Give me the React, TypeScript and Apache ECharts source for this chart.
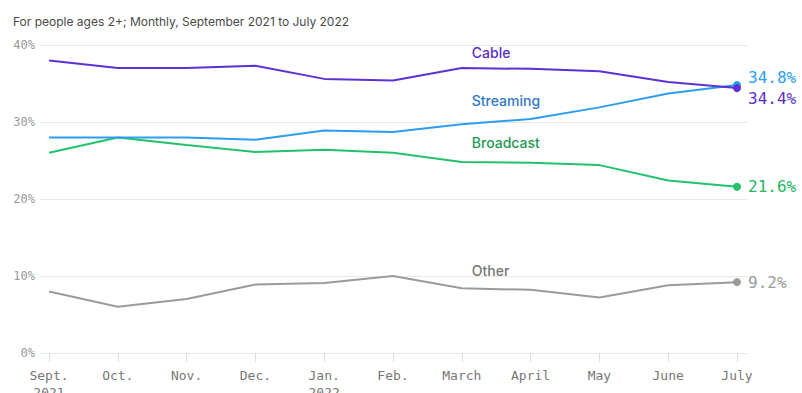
import React, { useEffect, useRef } from 'react';
import * as echarts from 'echarts';

const months = ['Sept.\n2021', 'Oct.', 'Nov.', 'Dec.', 'Jan.\n2022', 'Feb.', 'March', 'April', 'May', 'June', 'July'];
const cable = [38.0, 37.0, 37.0, 37.3, 35.6, 35.4, 37.0, 36.9, 36.6, 35.2, 34.4];
const streaming = [28.0, 28.0, 28.0, 27.7, 28.9, 28.7, 29.7, 30.4, 31.9, 33.7, 34.8];
const broadcast = [26.0, 28.0, 27.0, 26.1, 26.4, 26.0, 24.8, 24.7, 24.4, 22.4, 21.6];
const other = [8.0, 6.0, 7.0, 8.9, 9.1, 10.0, 8.4, 8.2, 7.2, 8.8, 9.2];
const yMin = 0;
const yMax = 40;
const yStep = 10;
const subtitle = 'For people ages 2+; Monthly, September 2021 to July 2022';

const MONO = '"DejaVu Sans Mono", "Liberation Mono", monospace';
const SANS = 'Inter, "Noto Sans", sans-serif';

function makeSeries(
  name: string,
  values: number[],
  lineColor: string,
  nameColor: string,
  nameDy: number,
  endColor: string,
  endDy: number
) {
  const last = values.length - 1;
  const data = values.map((v, i) => {
    const item: any = { value: v };
    if (i === 6) {
      item.label = {
        show: true,
        formatter: name,
        position: 'right',
        distance: 5,
        offset: [5, nameDy],
        color: nameColor,
        fontSize: 14,
        fontFamily: SANS,
        fontWeight: 500,
      };
    }
    if (i === last) {
      item.symbolSize = 8;
      item.label = {
        show: true,
        formatter: v.toFixed(1) + '%',
        position: 'right',
        distance: 5,
        offset: [2, endDy],
        color: endColor,
        fontSize: 16,
        fontFamily: MONO,
      };
    }
    return item;
  });
  return {
    name,
    type: 'line',
    xAxisIndex: 1,
    yAxisIndex: 1,
    data,
    showSymbol: true,
    symbol: 'circle',
    symbolSize: 0,
    clip: false,
    lineStyle: { color: lineColor, width: 2 },
    itemStyle: { color: lineColor },
    emphasis: { disabled: true },
  };
}

export default function App() {
  const ref = useRef<HTMLDivElement>(null);
  useEffect(() => {
    if (!ref.current) return;
    const chart = echarts.init(ref.current, undefined, { renderer: 'svg' });
    chart.setOption({
      animation: false,
      backgroundColor: '#ffffff',
      title: {
        text: subtitle,
        left: 8,
        top: 10,
        textStyle: { fontSize: 12, fontWeight: 'normal', color: '#4a4a4a', fontFamily: SANS },
      },
      grid: [
        { left: 40, right: 54, top: 45, bottom: 40, containLabel: false, outerBoundsMode: 'none' },
        { left: 49, right: 65, top: 45, bottom: 40, containLabel: false, outerBoundsMode: 'none' },
      ],
      xAxis: [
        { gridIndex: 0, type: 'value', min: 0, max: 1, show: false },
        {
          gridIndex: 1,
          type: 'category',
          boundaryGap: false,
          data: months,
          axisLine: { show: false },
          axisTick: { show: true, length: 9, lineStyle: { color: '#dddddd' } },
          axisLabel: {
            interval: 0,
            color: '#777',
            fontFamily: MONO,
            fontSize: 13,
            margin: 14,
            lineHeight: 17,
            verticalAlign: 'top',
          },
          splitLine: { show: false },
        },
      ],
      yAxis: [
        {
          gridIndex: 0,
          type: 'value',
          min: yMin,
          max: yMax,
          interval: yStep,
          axisLine: { show: false },
          axisTick: { show: false },
          axisLabel: { formatter: '{value}%', color: '#999', fontFamily: MONO, fontSize: 12, margin: 5 },
          splitLine: { lineStyle: { color: '#e8e8e8', width: 1 } },
        },
        { gridIndex: 1, type: 'value', min: yMin, max: yMax, interval: yStep, show: false },
      ],
      series: [
        makeSeries('Other', other, '#9b9b9b', '#777777', -18, '#9a9a9a', 0),
        makeSeries('Broadcast', broadcast, '#22c26a', '#1d9a52', -20, '#1fb864', 0),
        makeSeries('Streaming', streaming, '#2d9df0', '#2f78c8', -24, '#2da0f2', -8),
        makeSeries('Cable', cable, '#5c31d6', '#5a2fc8', -16, '#5a2fc8', 10),
      ],
    });
    return () => chart.dispose();
  }, []);
  return <div ref={ref} style={{ position: 'fixed', left: 0, top: 0, width: 802, height: 393 }} />;
}
